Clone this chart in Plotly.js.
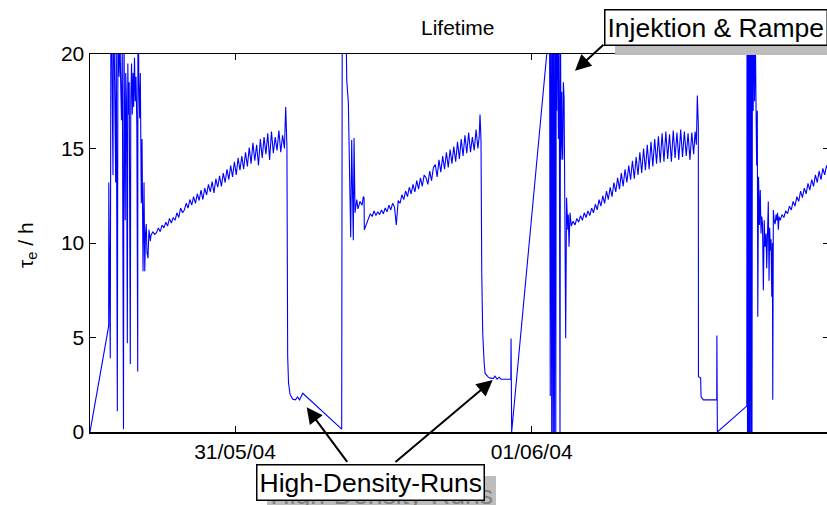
<!DOCTYPE html>
<html><head><meta charset="utf-8">
<script src="https://cdn.plot.ly/plotly-3.0.1.min.js"></script>
<style>html,body{margin:0;padding:0;overflow:hidden;background:#fff}</style>
</head><body>
<div id="chart" style="width:832px;height:505px"></div>
<script>
// time axis: hours since 30/05/04 12:00 ; tau_e in hours
const tInj1 = [0.27,1.78,1.79,1.85,1.91,1.97,2.05,2.13,2.17,2.27,2.35,2.39,2.48,2.54,2.62,2.70,2.75,2.82,2.88,2.94,2.98,3.02,3.07,3.12,3.16,3.22,3.29,3.33,3.38,3.44,3.53,3.57,3.63,3.69,3.75,3.80,3.87,3.93,3.99,4.06,4.13,4.15,4.22,4.29,4.34,4.42,4.48,4.56,4.64,4.70,4.76,4.82,4.88,4.96,5.04,5.15];
const tauInj1 = [0,5.6,13.2,5.8,3.9,25,19,13.6,24,18.5,13.2,22,1.1,25,18.8,21,18.5,16.5,20.5,11,0.15,21,17,11.2,19,17.5,4.7,19.5,16.8,18.5,3.6,17.5,19.5,16.8,19,17.2,19.8,17.5,18.8,16.2,3.2,25,18.5,16.6,19,12.1,15.5,8.5,13.2,8.5,10.5,11.0,9.5,9.2,10.7,10.1];

const tRun1 = [5.2,5.35,5.5,5.65,5.8,5.95,6.1,6.25,6.4,6.55,
  6.7,6.85,7.0,7.15,7.3,7.45,7.6,7.75,7.9,8.05,
  8.2,8.35,8.5,8.65,8.8,8.95,9.1,9.25,9.4,9.55,
  9.7,9.85,10.0,10.15,10.3,10.45,10.6,10.75,10.9,11.05,
  11.2,11.35,11.5,11.65,11.8,11.95,12.1,12.25,12.4,12.55,
  12.7,12.85,13.0,13.15,13.3,13.45,13.6,13.75,13.9,14.05,
  14.2,14.35,14.5,14.65,14.8,14.95,15.1,15.25,15.4,15.55,
  15.7,15.85,16.0,16.1,16.2];
const tauRun1 = [10.4,10.6,10.45,10.55,10.8,10.6,10.95,10.8,11.1,10.9,
  11.3,11.05,11.35,11.2,11.6,11.35,11.85,11.6,11.75,12.1,
  11.85,12.3,12.0,12.45,12.1,12.6,12.25,12.8,12.3,12.9,
  12.55,13.1,12.7,13.25,12.65,13.4,12.95,13.55,13.0,13.7,
  13.2,13.9,13.35,14.1,13.5,14.3,13.6,14.5,13.85,14.6,
  13.9,14.8,14.05,15.05,14.2,15.3,14.35,15.2,14.1,15.5,
  14.5,15.6,14.7,15.8,14.4,15.9,14.75,15.6,14.9,15.95,
  14.8,15.7,15.0,17.2,15.1];

const tHD1 = [16.26,16.33,16.45,16.65,16.89,17.06,17.22,17.48,20.63];
const tauHD1 = [4.0,2.6,2.0,1.75,1.7,1.85,1.7,2.05,0.15];

const tInj2 = [20.68,20.82,20.98,21.04,21.17,21.25,21.36,21.44,21.51,21.57,21.63,21.71,21.85,21.95,22.11,22.28,22.38,22.44,22.46];
const tauInj2 = [25,22,21.5,18.6,17.4,14.0,10.3,15.45,11.5,10.15,15.55,11.6,12.3,11.8,12.2,12.0,12.45,12.4,10.7];

const tRun2 = [22.65,22.8,22.95,23.1,23.25,23.4,23.55,23.7,23.85,24.0,
  24.15,24.3,24.45,24.6,24.75,24.9,25.05,25.2,25.35,25.5,
  25.65,25.8,25.95,26.1,26.25,26.4,26.55,26.7,26.85,27.0,
  27.15,27.3,27.45,27.6,27.75,27.9,28.05,28.2,28.35,28.5,
  28.65,28.8,28.95,29.1,29.25,29.4,29.55,29.7,29.85,30.0,
  30.15,30.3,30.45,30.6,30.75,30.9,31.05,31.2,31.35,31.5,
  31.65,31.75,31.82,31.9];
const tauRun2 = [11.1,11.3,11.55,11.4,11.7,11.45,11.65,11.5,11.75,11.55,
  11.85,11.65,12.0,11.75,12.1,11.9,10.95,12.25,12.1,12.55,
  12.3,12.75,12.45,12.95,12.6,13.1,12.7,13.3,12.85,13.45,
  13.0,13.6,13.45,13.1,13.8,13.3,14.0,14.15,13.5,14.4,
  13.75,14.6,13.9,14.8,14.0,14.95,14.2,15.1,14.3,15.35,
  14.45,15.5,14.6,15.7,14.75,15.85,14.8,15.6,14.9,16.0,
  15.0,15.6,16.8,15.4];

const tHD2 = [31.96,32.04,32.15,32.23,32.49,32.63,32.9,33.03,33.2,33.36,33.52,33.71,34.31,34.33,34.38,37.36];
const tauHD2 = [8.4,5.2,3.7,3.1,2.9,2.85,2.84,2.95,2.8,2.9,2.8,2.79,2.79,4.95,0,21];

const tInj3 = [37.44,37.50,37.55,37.62,37.67,37.73,37.77,37.83,37.89,37.95,37.99,38.03,38.07,38.16,38.20,38.24,38.29,38.33,38.37,38.43,38.45,38.51,38.56,38.62,38.66,38.70,38.75,38.82,38.92,38.96,39.02,39.10];
const tauInj3 = [25,1.9,25,-0.5,25,-0.5,25,-0.5,25,-0.5,25,17.0,25,15.5,22,16.5,-0.5,22,14.4,18,15.7,14.4,18.5,17.7,11.75,14.8,4.96,12.4,10.7,11.5,9.8,11.6];

const tRun3 = [39.2,39.35,39.5,39.65,39.8,39.95,40.1,40.25,40.4,40.55,
  40.7,40.85,41.0,41.15,41.3,41.45,41.6,41.75,41.9,42.05,
  42.2,42.35,42.5,42.65,42.8,42.95,43.1,43.25,43.4,43.55,
  43.7,43.85,44.0,44.15,44.3,44.45,44.6,44.75,44.9,45.05,
  45.2,45.35,45.5,45.65,45.8,45.95,46.1,46.25,46.4,46.55,
  46.7,46.85,47.0,47.15,47.3,47.45,47.6,47.75,47.9,48.05,
  48.2,48.35,48.5,48.65,48.8,48.95,49.1,49.22,49.32,49.40,49.48];
const tauRun3 = [10.9,11.15,10.95,11.3,11.1,11.45,11.2,11.6,11.35,11.7,
  11.45,11.85,11.6,12.05,11.75,12.3,11.95,12.5,12.1,12.75,
  12.3,12.95,12.45,13.2,12.7,13.45,12.85,13.7,13.0,13.9,
  13.2,14.1,13.35,14.35,13.4,14.55,13.6,14.8,13.7,15.0,
  13.85,15.2,13.9,15.35,14.05,15.5,14.2,15.65,14.25,15.8,
  14.3,15.9,14.45,15.75,14.3,15.95,14.5,15.85,14.4,16.0,
  14.55,15.9,14.6,15.8,14.4,15.85,14.7,15.9,15.2,17.8,16.2];

const tHD3 = [49.49,49.67,49.70,49.88,50.97,50.98,51.02,53.40];
const tauHD3 = [2.93,2.85,1.87,1.7,1.7,5.1,0,1.37];

const tInj4 = [53.42,53.46,53.50,53.54,53.58,53.63,53.68,53.73,53.78,53.82,53.86,53.92,53.97,54.03,54.08,54.15,54.20,54.25,54.29,54.35,54.42,54.49,54.55,54.61,54.67,54.74,54.81,54.88,54.96,55.01,55.08,55.14,55.20,55.25,55.31,55.36,55.42,55.47,55.50,55.55,55.61,55.69,55.77,55.82,55.89,55.95,56.01];
const tauInj4 = [25,-0.5,25,-0.5,25,-0.5,25,-0.5,25,-0.5,25,17.0,25,17.5,22,17,14.1,17,6.1,13.5,10.95,12.8,10.5,11.4,11.0,7.5,11.2,9.8,10.5,8.66,10.3,12.2,8.0,10.8,9.6,10.2,7.16,10.0,1.7,11.75,11.2,11.0,11.5,11.2,11.6,10.7,11.4];

const tRun4 = [56.1,56.25,56.4,56.55,56.7,56.85,57.0,57.15,57.3,57.45,57.6,57.75,57.9,58.05,58.2,58.35,58.5,58.65,58.8,58.95,59.1,59.25,59.4,59.55,59.7,59.85,60.0];
const tauRun4 = [11.2,11.5,11.35,11.7,11.55,11.95,11.75,12.2,11.95,12.45,12.2,12.75,12.4,12.9,12.6,13.15,12.8,13.35,13.0,13.6,13.2,13.8,13.35,13.95,13.6,14.1,13.8];

const xTickVals = [12, 36];
const xTickText = ['31/05/04', '01/06/04'];
const yTickVals = [0, 5, 10, 15, 20];

const t = [].concat(tInj1,tRun1,tHD1,tInj2,tRun2,tHD2,tInj3,tRun3,tHD3,tInj4,tRun4);
const tau = [].concat(tauInj1,tauRun1,tauHD1,tauInj2,tauRun2,tauHD2,tauInj3,tauRun3,tauHD3,tauInj4,tauRun4);

const FONT = 'Arial, "Liberation Sans", sans-serif';
const L = 90, R = 829, T = 54, B = 432;
const px = v => (v - L) / (R - L);
const py = v => (B - v) / (B - T);

const trace = {
  x: t, y: tau, type: 'scatter', mode: 'lines',
  line: {color: '#0000ff', width: 1.1}, hoverinfo: 'skip'
};

const boxFont = {family: FONT, size: 26.5, color: '#000'};
const layout = {
  width: 832, height: 505,
  margin: {l: L, r: 832 - R, t: T, b: 505 - B},
  paper_bgcolor: '#fff', plot_bgcolor: '#fff',
  showlegend: false,
  xaxis: {
    range: [0.27, 60.05], tickmode: 'array', tickvals: xTickVals, ticktext: xTickText,
    ticks: 'inside', ticklen: 6, tickwidth: 1, tickcolor: '#000',
    showline: true, linecolor: '#000', linewidth: 1.5, mirror: 'ticks',
    showgrid: false, zeroline: false,
    tickfont: {family: FONT, size: 21, color: '#000'}
  },
  yaxis: {
    range: [0, 20], tickmode: 'array', tickvals: yTickVals,
    ticks: 'inside', ticklen: 6, tickwidth: 1, tickcolor: '#000',
    showline: true, linecolor: '#000', linewidth: 1.5, mirror: 'ticks',
    showgrid: false, zeroline: false,
    tickfont: {family: FONT, size: 21, color: '#000'}
  },
  annotations: [
    {text: 'Lifetime', xref: 'paper', yref: 'paper', x: px(457.5), y: py(27),
     xanchor: 'center', yanchor: 'middle', showarrow: false,
     font: {family: FONT, size: 21, color: '#000'}},
    {text: 'τ<sub>e</sub> / h', xref: 'paper', yref: 'paper', x: px(27), y: py(245),
     xanchor: 'center', yanchor: 'middle', showarrow: false, textangle: -90,
     font: {family: FONT, size: 21, color: '#000'}},
    // arrows
    {text: '', xref: 'paper', yref: 'paper', x: px(575), y: py(70.7), ax: 30, ay: -27.4,
     showarrow: true, arrowhead: 2, arrowsize: 1.6, arrowwidth: 2, arrowcolor: '#000'},
    {text: '', xref: 'paper', yref: 'paper', x: px(306.7), y: py(407.3), ax: 41.6, ay: 56,
     showarrow: true, arrowhead: 2, arrowsize: 1.6, arrowwidth: 2, arrowcolor: '#000'},
    {text: '', xref: 'paper', yref: 'paper', x: px(492.7), y: py(380), ax: -98.7, ay: 83.3,
     showarrow: true, arrowhead: 2, arrowsize: 1.6, arrowwidth: 2, arrowcolor: '#000'},
    // shadows
    {text: 'Injektion & Rampe', xref: 'paper', yref: 'paper', x: px(615), y: py(18.5),
     xanchor: 'left', yanchor: 'top', showarrow: false,
     bgcolor: '#bdbdbd', bordercolor: '#bdbdbd', borderwidth: 1.5, borderpad: 2,
     font: {family: FONT, size: 26.5, color: '#bdbdbd'}},
    {text: 'High-Density-Runs', xref: 'paper', yref: 'paper', x: px(266.7), y: py(476.3),
     xanchor: 'left', yanchor: 'top', showarrow: false,
     bgcolor: '#bdbdbd', bordercolor: '#bdbdbd', borderwidth: 1.5, borderpad: 2,
     font: {family: FONT, size: 26.5, color: '#808080'}},
    // boxes
    {text: 'Injektion & Rampe', xref: 'paper', yref: 'paper', x: px(604.3), y: py(9.3),
     xanchor: 'left', yanchor: 'top', showarrow: false,
     bgcolor: '#fff', bordercolor: '#000', borderwidth: 1.5, borderpad: 2, font: boxFont},
    {text: 'High-Density-Runs', xref: 'paper', yref: 'paper', x: px(255.7), y: py(464.3),
     xanchor: 'left', yanchor: 'top', showarrow: false,
     bgcolor: '#fff', bordercolor: '#000', borderwidth: 1.5, borderpad: 2, font: boxFont}
  ]
};

Plotly.newPlot('chart', [trace], layout, {displayModeBar: false, staticPlot: true});
</script>
</body></html>
